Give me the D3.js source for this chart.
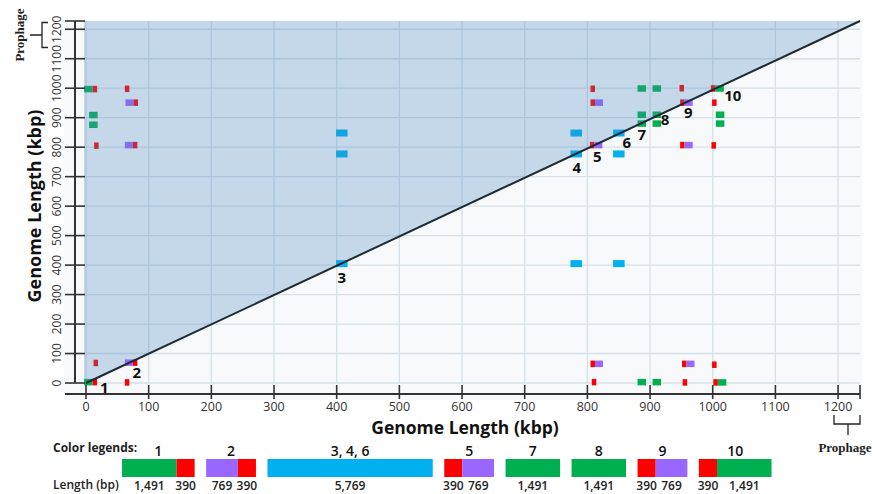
<!doctype html>
<html>
  <head>
    <meta charset="utf-8">
    <title>Genome dot plot</title>
    <script src="https://cdnjs.cloudflare.com/ajax/libs/d3/7.8.5/d3.min.js"></script>
    <style>
      body { margin: 0; background: #fff; }
      svg { display: block; font-family: "Open Sans", "Noto Sans", sans-serif; }
    </style>
  </head>
  <body>
    <div id="chart"></div>
    <script>
      // hits: x (kbp, left edge), y (kbp, centre), kind = colour segments
      const hitX = [-3, 62, 12, 62, -3, 62, 63, 5, 5, 13, 62,
                    399, 399, 399, 773, 841, 773, 841, 773, 841,
                    805, 805, 804, 880, 904, 880, 904, 880, 904, 947, 948, 948, 997, 999, 1005, 1005, 998,
                    805, 951, 999, 807, 880, 904, 952, 1001];
      const hitY = [3, 2, 68, 69, 997, 998, 951, 909, 876, 805, 807,
                    405, 848, 777, 405, 405, 848, 848, 777, 777,
                    998, 951, 807, 999, 999, 910, 910, 880, 880, 1000, 951, 807, 999, 951, 910, 880, 806,
                    65, 65, 62, 3, 3, 3, 2, 2];
      const hitKind = ["GR", "R", "R", "PR", "GR", "R", "PR", "G", "G", "R", "PR",
                       "B", "B", "B", "B", "B", "B", "B", "B", "B",
                       "R", "RP", "RP", "G", "G", "G", "G", "G", "G", "R", "RP", "RP", "RG", "R", "G", "G", "R",
                       "RP", "RP", "R", "R", "G", "G", "R", "RG"];

      // numbered hit labels (kbp, centre)
      const tagText = ["1", "2", "3", "4", "5", "6", "7", "8", "9", "10"];
      const tagX = [29, 81, 408, 783, 816, 863, 887, 924, 961, 1032];
      const tagY = [-14, 34, 356, 730, 767, 814, 841, 892, 916, 974];

      const xTicks = [0, 100, 200, 300, 400, 500, 600, 700, 800, 900, 1000, 1100, 1200];
      const yTicks = [0, 100, 200, 300, 400, 500, 600, 700, 800, 900, 1000, 1100, 1200];
      const xMax = 1235, yMax = 1228;

      // legend
      const legendTitles = ["1", "2", "3, 4, 6", "5", "7", "8", "9", "10"];
      const legendKinds = [["G", "R"], ["P", "R"], ["B"], ["R", "P"], ["G"], ["G"], ["R", "P"], ["R", "G"]];
      const legendLengths = [[1491, 390], [769, 390], [5769], [390, 769], [1491], [1491], [390, 769], [390, 1491]];

      const colors = { G: "#00b050", R: "#ff0000", P: "#9966ff", B: "#00b0f0" };
      const segW = { G: 8.5, R: 4.5, P: 8, B: 11.5 };

      const svg = d3.select("#chart").append("svg")
        .attr("width", 877)
        .attr("height", 494);

      const x = d3.scaleLinear().domain([0, xMax]).range([86, 860]);
      const y = d3.scaleLinear().domain([0, yMax]).range([383, 21]);

      // plot background
      svg.append("rect")
        .attr("x", 64).attr("y", y(yMax))
        .attr("width", x(xMax) + 2 - 64).attr("height", 400 - y(yMax))
        .attr("fill", "#f7f9fa");

      // grid
      svg.append("g").selectAll("line")
        .data(xTicks)
        .join("line")
        .attr("x1", d => x(d)).attr("x2", d => x(d))
        .attr("y1", y(yMax)).attr("y2", y(0))
        .attr("stroke", "#d6e1e7").attr("stroke-width", 1.3);
      svg.append("g").selectAll("line")
        .data(yTicks)
        .join("line")
        .attr("x1", x(0)).attr("x2", x(xMax))
        .attr("y1", d => y(d)).attr("y2", d => y(d))
        .attr("stroke", "#d6e1e7").attr("stroke-width", 1.3);

      // hits, each split in coloured segments
      const hits = hitX.map((v, i) => ({ x: v, y: hitY[i], kind: hitKind[i] }));
      const segs = [];
      hits.forEach(h => {
        let px = x(h.x);
        h.kind.split("").forEach(k => {
          const hgt = k === "B" ? 7 : 6.5;
          segs.push({ px: px, py: y(h.y) - hgt / 2, w: segW[k], h: hgt, k: k });
          px += segW[k];
        });
      });
      svg.append("g").selectAll("rect")
        .data(segs)
        .join("rect")
        .attr("x", d => d.px).attr("y", d => d.py)
        .attr("width", d => d.w).attr("height", d => d.h)
        .attr("fill", d => colors[d.k]);

      // shaded upper triangle on top
      svg.append("path")
        .attr("d", d3.line()([[x(0) - 2, y(0)], [x(0) - 2, y(yMax)], [x(xMax), y(yMax)], [x(0), y(0)]]) + "Z")
        .attr("fill", "#4a86c4")
        .attr("fill-opacity", 0.29);

      // diagonal
      svg.append("line")
        .attr("x1", x(0)).attr("y1", y(0))
        .attr("x2", x(xMax)).attr("y2", y(yMax))
        .attr("stroke", "#1c2b33").attr("stroke-width", 2);

      // hit numbers
      svg.append("g").selectAll("text")
        .data(tagText)
        .join("text")
        .attr("x", (d, i) => x(tagX[i]))
        .attr("y", (d, i) => y(tagY[i]))
        .attr("dy", "0.36em")
        .attr("text-anchor", "middle")
        .style("font-size", "15px")
        .style("font-weight", "bold")
        .style("fill", "#111")
        .text(d => d);

      // x axis
      const xAxis = svg.append("g");
      xAxis.append("line")
        .attr("x1", 65).attr("x2", x(xMax))
        .attr("y1", 394).attr("y2", 394)
        .attr("stroke", "#333").attr("stroke-width", 2);
      xAxis.selectAll(".tk")
        .data(xTicks.concat([xMax]))
        .join("line")
        .attr("x1", d => x(d)).attr("x2", d => x(d))
        .attr("y1", 385).attr("y2", 399)
        .attr("stroke", "#333").attr("stroke-width", 1.6);
      xAxis.selectAll("text")
        .data(xTicks)
        .join("text")
        .attr("x", d => x(d)).attr("y", 411)
        .attr("text-anchor", "middle")
        .style("font-size", "12.5px")
        .style("fill", "#333")
        .text(d => d);

      // axis titles
      svg.append("text")
        .attr("x", 465).attr("y", 434)
        .attr("text-anchor", "middle")
        .style("font-size", "17.5px").style("font-weight", "bold").style("fill", "#111")
        .text("Genome Length (kbp)");

      // y axis
      const yAxis = svg.append("g");
      yAxis.append("line")
        .attr("x1", 75).attr("x2", 75)
        .attr("y1", y(yMax)).attr("y2", y(0))
        .attr("stroke", "#333").attr("stroke-width", 2);
      yAxis.selectAll(".tk")
        .data(yTicks.concat([yMax]))
        .join("line")
        .attr("x1", 65).attr("x2", 85)
        .attr("y1", d => y(d)).attr("y2", d => y(d))
        .attr("stroke", "#333").attr("stroke-width", 1.6);
      yAxis.selectAll("text")
        .data(yTicks)
        .join("text")
        .attr("transform", d => `translate(61,${y(d)}) rotate(-90)`)
        .attr("text-anchor", "middle")
        .style("font-size", "12px")
        .style("fill", "#333")
        .text(d => d);

      svg.append("text")
        .attr("transform", "translate(41,206) rotate(-90)")
        .attr("text-anchor", "middle")
        .style("font-size", "18px").style("font-weight", "bold").style("fill", "#111")
        .text("Genome Length (kbp)");

      // prophage brackets
      svg.append("path")
        .attr("d", "M48,22.5 H42 V35 H30 M42,35 V47.5 H48")
        .attr("fill", "none").attr("stroke", "#222").attr("stroke-width", 1.3);
      svg.append("text")
        .attr("transform", "translate(24,35) rotate(-90)")
        .attr("text-anchor", "middle")
        .style("font-family", "'Liberation Serif', serif")
        .style("font-size", "13px").style("font-weight", "bold").style("fill", "#222")
        .text("Prophage");
      svg.append("path")
        .attr("d", "M834,415 V424 H860 V415 M848,424 V435")
        .attr("fill", "none").attr("stroke", "#222").attr("stroke-width", 1.3);
      svg.append("text")
        .attr("x", 845).attr("y", 452)
        .attr("text-anchor", "middle")
        .style("font-family", "'Liberation Serif', serif")
        .style("font-size", "13px").style("font-weight", "bold").style("fill", "#222")
        .text("Prophage");

      // legend
      const lenScale = d3.scalePow().exponent(0.82).domain([0, 1491]).range([0, 54.5]);
      const legend = svg.append("g");
      legend.append("text")
        .attr("x", 53).attr("y", 452)
        .style("font-size", "12px").style("font-weight", "bold").style("fill", "#222")
        .text("Color legends:");
      legend.append("text")
        .attr("x", 53).attr("y", 489)
        .style("font-size", "12px").style("font-weight", 600).style("fill", "#222")
        .text("Length (bp)");

      let lx = 122;
      legendTitles.forEach((t, i) => {
        const start = lx;
        legendKinds[i].forEach((k, j) => {
          const w = lenScale(legendLengths[i][j]);
          legend.append("rect")
            .attr("x", lx).attr("y", 459)
            .attr("width", w).attr("height", 18)
            .attr("fill", colors[k]);
          legend.append("text")
            .attr("x", lx + w / 2).attr("y", 490)
            .attr("text-anchor", "middle")
            .style("font-size", "12px").style("font-weight", 600).style("fill", "#222")
            .text(d3.format(",")(legendLengths[i][j]));
          lx += w;
        });
        legend.append("text")
          .attr("x", (start + lx) / 2).attr("y", 456)
          .attr("text-anchor", "middle")
          .style("font-size", "14px").style("font-weight", 600).style("fill", "#111")
          .text(t);
        lx += 11.5;
      });
    </script>
  </body>
</html>
